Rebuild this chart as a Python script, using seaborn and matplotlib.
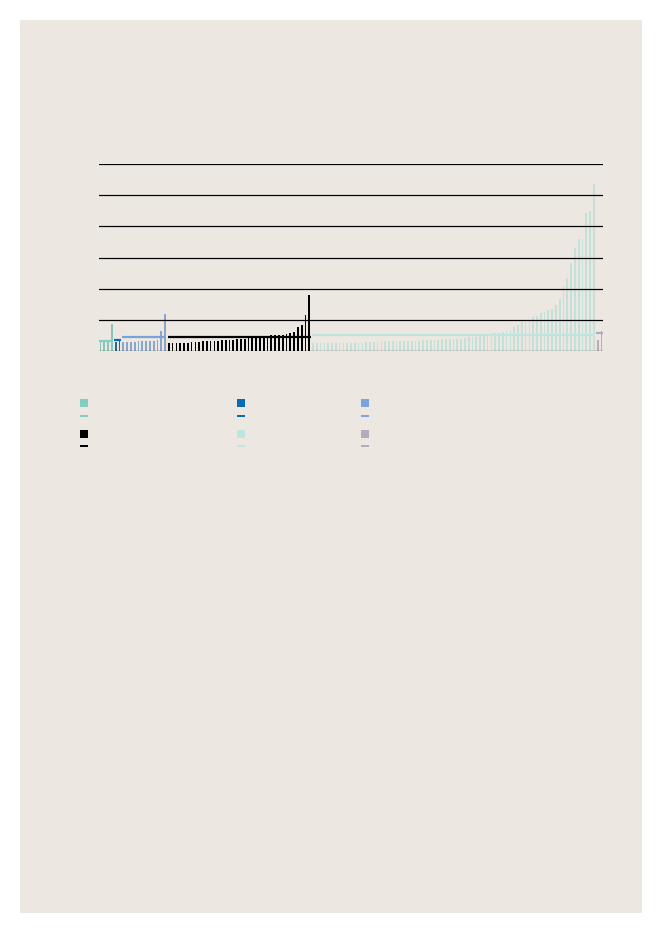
import matplotlib
matplotlib.use("Agg")
import matplotlib.pyplot as plt
from matplotlib.patches import Rectangle
import seaborn as sns
import pandas as pd
import numpy as np

# ---------------- data ----------------
group_names = ["A", "B", "C", "D", "E", "F"]
group_colors = ["#80cfc0", "#0a6ab6", "#7ba3d9", "#000000", "#bfe5de", "#b3abbd"]

teal_vals = [0.28, 0.28, 0.34, 0.85]
darkblue_vals = [0.29, 0.38]
lightblue_vals = [0.27, 0.27, 0.27, 0.27, 0.30, 0.30, 0.33, 0.33, 0.33, 0.36, 0.65, 1.17]
black_vals = [0.24, 0.24, 0.24, 0.24, 0.24, 0.25, 0.27, 0.27, 0.27, 0.30, 0.30, 0.30,
              0.30, 0.32, 0.34, 0.34, 0.34, 0.34, 0.37, 0.37, 0.39, 0.40, 0.40, 0.42,
              0.43, 0.44, 0.47, 0.50, 0.50, 0.51, 0.51, 0.54, 0.56, 0.61, 0.77, 0.83,
              1.15, 1.80]
paleteal_vals = ([0.26] * 14 + [0.29] * 4 + [0.32] * 11 + [0.34] + [0.35] * 4 + [0.37]
                 + [0.39] * 3 + [0.38, 0.39, 0.42, 0.43, 0.44, 0.46, 0.49, 0.53, 0.55,
                                  0.58, 0.58, 0.58, 0.61, 0.65, 0.67, 0.76, 0.84, 0.92,
                                  0.92, 0.97, 1.09, 1.12, 1.22, 1.25, 1.31, 1.34, 1.47,
                                  1.67, 2.08, 2.34, 2.83, 3.31, 3.60, 3.60, 4.44, 4.51,
                                  5.38])
grey_vals = [0.34, 0.63]

group_values = [teal_vals, darkblue_vals, lightblue_vals, black_vals, paleteal_vals, grey_vals]
group_levels = [0.30, 0.35, 0.44, 0.45, 0.52, 0.58]
y_grid = [0, 1, 2, 3, 4, 5, 6]

# ---------------- build table ----------------
rows = []
idx = 0
spans = []
for name, vals in zip(group_names, group_values):
    start = idx
    for v in vals:
        rows.append({"idx": idx, "value": v, "group": name})
        idx += 1
    spans.append((start, idx - 1))
df = pd.DataFrame(rows)
n_total = idx

# ---------------- figure ----------------
W, H = 661, 933
fig = plt.figure(figsize=(W / 100, H / 100), dpi=100, facecolor="white")
bg = "#ece8e1"
fig.add_artist(Rectangle((20 / W, 1 - 913 / H), 622 / W, 893 / H,
                         transform=fig.transFigure, facecolor=bg, edgecolor="none", zorder=0))

ax_left, ax_right = 99, 603
ax_top, ax_bottom = 164.3, 350.8
ax = fig.add_axes([ax_left / W, 1 - ax_bottom / H, (ax_right - ax_left) / W,
                   (ax_bottom - ax_top) / H])
ax.set_facecolor("none")

sns.barplot(data=df, x="idx", y="value", hue="group", hue_order=group_names,
            palette=dict(zip(group_names, group_colors)), dodge=False,
            native_scale=True, width=0.45, legend=False, ax=ax, zorder=2,
            edgecolor="none", linewidth=0)

for (s, e), lvl, col in zip(spans, group_levels, group_colors):
    ax.hlines(lvl, s - 0.35, e + 0.35, color=col, lw=1.6, zorder=3)

ax.set_xlim(-0.4, n_total - 0.6)
ax.set_ylim(0, 6)
ax.set_yticks(y_grid)
ax.grid(axis="y", color="black", lw=0.8, zorder=4)
ax.grid(axis="x", visible=False)
ax.set_axisbelow(False)
for gy in y_grid:
    ax.axhline(gy, color="black", lw=0.8, zorder=4)
ax.tick_params(left=False, bottom=False, labelleft=False, labelbottom=False)
for sp in ax.spines.values():
    sp.set_visible(False)
ax.set_xlabel("")
ax.set_ylabel("")

# ---------------- legend (swatches only) ----------------
col_x = [80, 237, 361]
row_sq_y = [399, 430]
row_ln_y = [415, 445.3]
for k, col in enumerate(group_colors):
    r, c = divmod(k, 3)
    x = col_x[c]
    fig.add_artist(Rectangle((x / W, 1 - (row_sq_y[r] + 8) / H), 8 / W, 8 / H,
                             transform=fig.transFigure, facecolor=col,
                             edgecolor="none", zorder=5))
    fig.add_artist(Rectangle((x / W, 1 - (row_ln_y[r] + 2) / H), 8 / W, 2 / H,
                             transform=fig.transFigure, facecolor=col,
                             edgecolor="none", zorder=5))

fig.savefig("out.png", dpi=100, facecolor="white")
